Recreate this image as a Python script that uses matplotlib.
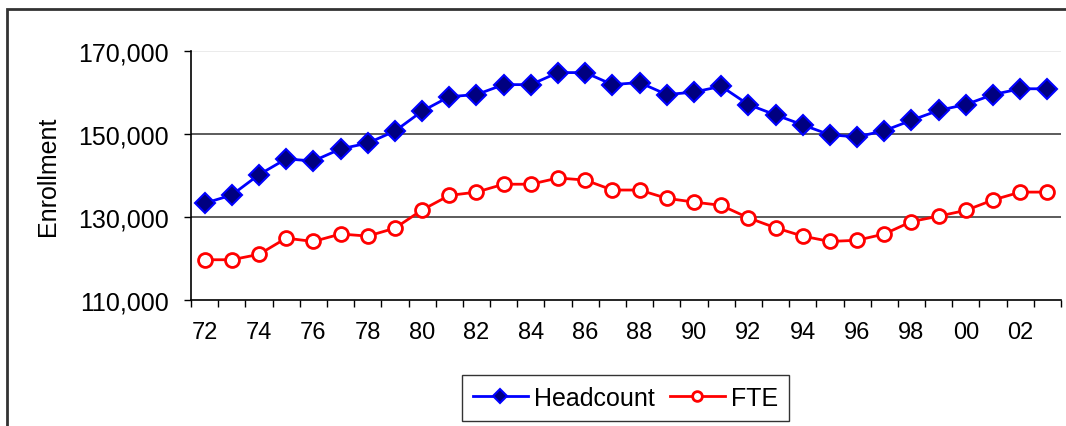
import matplotlib
matplotlib.use("Agg")
import matplotlib.pyplot as plt
from matplotlib.patches import Rectangle
from matplotlib.ticker import FuncFormatter, FixedLocator

years = ["72", "73", "74", "75", "76", "77", "78", "79", "80", "81",
         "82", "83", "84", "85", "86", "87", "88", "89", "90", "91",
         "92", "93", "94", "95", "96", "97", "98", "99", "00", "01",
         "02", "03"]
headcount = [133300, 135300, 140200, 144000, 143500, 146400, 147800, 150700,
             155500, 159000, 159500, 161900, 161900, 164800, 164800, 161900,
             162400, 159500, 160100, 161500, 157100, 154600, 152200, 149800,
             149300, 150800, 153300, 155700, 157100, 159500, 160900, 160900]
fte = [119700, 119700, 121000, 124900, 124100, 125900, 125400, 127300,
       131700, 135200, 136000, 137900, 137900, 139400, 138900, 136500,
       136500, 134500, 133600, 132800, 129800, 127400, 125400, 124100,
       124400, 125900, 128900, 130200, 131600, 134100, 136000, 136000]
yticks = [110000, 130000, 150000, 170000]

plt.rcParams['font.family'] = ['Liberation Sans', 'DejaVu Sans']

W, H = 1066, 427
fig = plt.figure(figsize=(W / 100, H / 100), dpi=100)
ax = fig.add_axes([191 / W, 1 - 301 / H, (1061 - 191) / W, (301 - 52) / H])

x = list(range(len(years)))
ax.plot(x, headcount, color='#0000FF', lw=2, marker='D', ms=10,
        mfc='#000080', mec='#0000FF', mew=1.5, label='Headcount', zorder=3)
ax.plot(x, fte, color='#FF0000', lw=2, marker='o', ms=10,
        mfc='white', mec='#FF0000', mew=2, label='FTE', zorder=3)

ax.set_xlim(-0.5, len(years) - 0.5)
ax.set_ylim(110000, 170000)

# gridlines
for v in yticks[1:]:
    col = '#E8E8E8' if v == 170000 else '#404040'
    ax.axhline(v, color=col, lw=1.2, zorder=1)

ax.set_yticks(yticks)
ax.yaxis.set_major_formatter(FuncFormatter(lambda v, p: f"{int(v):,}"))
ax.tick_params(axis='y', direction='out', length=5, width=1, labelsize=18,
               pad=11)

ax.xaxis.set_major_locator(FixedLocator(x[::2]))
ax.set_xticklabels(years[::2])
ax.xaxis.set_minor_locator(FixedLocator([i - 0.5 for i in range(len(years) + 1)]))
ax.tick_params(axis='x', which='major', length=0, labelsize=17, pad=15)
ax.tick_params(axis='x', which='minor', direction='out', length=5, width=1)

for s in ['top', 'right']:
    ax.spines[s].set_visible(False)
for s in ['left', 'bottom']:
    ax.spines[s].set_color('black')
    ax.spines[s].set_linewidth(1.2)

ax.set_ylabel('Enrollment', fontsize=18)
ax.yaxis.set_label_coords(-131 / (1061 - 191), 0.5)

leg = fig.legend(loc='center', bbox_to_anchor=(625.5 / W, 1 - 399 / H),
                 ncol=2, fontsize=18, frameon=True, fancybox=False,
                 edgecolor='black', handlelength=2.2, handletextpad=0.25,
                 columnspacing=0.6, markerscale=0.7, borderpad=0.45,
                 borderaxespad=0)
leg.get_frame().set_linewidth(1.0)

# outer chart border
fig.patches.append(Rectangle((7 / W, -0.05), 1.2, 1 - 10 / H + 0.05,
                             transform=fig.transFigure, fill=False,
                             edgecolor='#333333', lw=2, zorder=0))

fig.savefig('out.png', dpi=100)
